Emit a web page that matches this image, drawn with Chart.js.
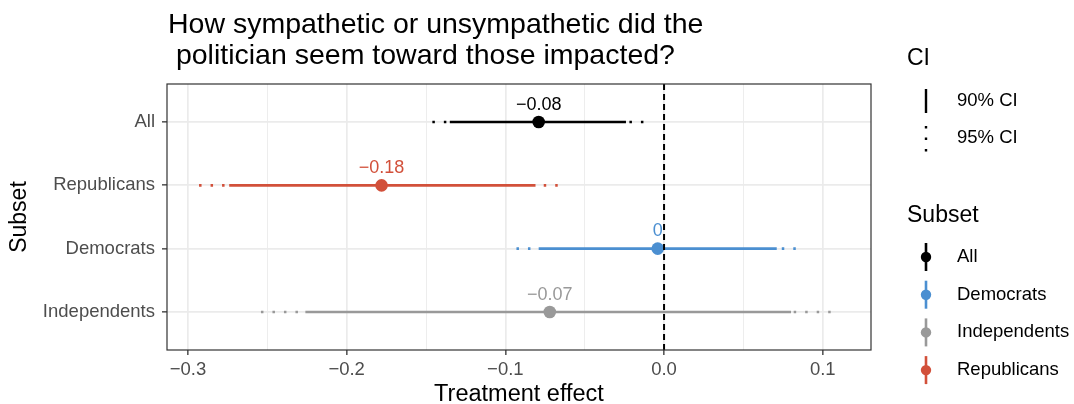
<!DOCTYPE html>
<html>
<head>
<meta charset="utf-8">
<script src="https://cdn.jsdelivr.net/npm/chart.js@4"></script>
<style>
  html, body { margin: 0; padding: 0; background: #ffffff; }
  canvas { display: block; }
</style>
</head>
<body>
<canvas id="chart" width="1074" height="404"></canvas>
<script>
// Subsets, top row first
const subsets = ['All', 'Republicans', 'Democrats', 'Independents'];
const subsetColors = ['#000000', '#d2503a', '#4b8fd1', '#999999'];
// Point estimates and confidence bounds
const estimates = [-0.079, -0.178, -0.004, -0.072];
const lower90 = [-0.135, -0.274, -0.079, -0.226];
const upper90 = [-0.024, -0.081, 0.071, 0.080];
const lower95 = [-0.146, -0.293, -0.093, -0.254];
const upper95 = [-0.013, -0.067, 0.083, 0.105];
// Axis ticks
const xMajorTicks = [-0.3, -0.2, -0.1, 0.0, 0.1];
const xMinorTicks = [-0.25, -0.15, -0.05, 0.05];
const xRange = [-0.3132, 0.1304];
// Legend order
const legendOrder = ['All', 'Democrats', 'Independents', 'Republicans'];
const ciLegend = ['90% CI', '95% CI'];

const FONT = '"Liberation Sans", Arial, Helvetica, sans-serif';
const MINUS = '\u2212';
const fmtNum = (v, d) => {
  const s = Number(v.toFixed(d)).toString();
  return s.replace('-', MINUS);
};
const fmtTick = v => (Math.abs(v) < 1e-9 ? '0.0' : v.toFixed(1).replace('-', MINUS));
const isMajor = v => xMajorTicks.some(t => Math.abs(t - v) < 1e-9);
const rowOf = i => subsets.length - i;

const DOTS = [2.5, 9];

const datasets = [];
subsets.forEach((name, i) => {
  const y = rowOf(i);
  // 95% interval: dotted tails outside the 90% interval, each dotted from its outer end
  datasets.push({
    label: name + ' 95 low',
    data: [{ x: lower95[i], y }, { x: lower90[i], y }],
    showLine: true, borderColor: subsetColors[i], borderWidth: 2.6,
    borderDash: DOTS, pointRadius: 0, order: 3
  });
  datasets.push({
    label: name + ' 95 high',
    data: [{ x: upper95[i], y }, { x: upper90[i], y }],
    showLine: true, borderColor: subsetColors[i], borderWidth: 2.6,
    borderDash: DOTS, pointRadius: 0, order: 3
  });
  datasets.push({
    label: name + ' 90',
    data: [{ x: lower90[i], y }, { x: upper90[i], y }],
    showLine: true, borderColor: subsetColors[i], borderWidth: 2.7,
    pointRadius: 0, order: 2
  });
  datasets.push({
    label: name,
    data: [{ x: estimates[i], y }],
    showLine: false, backgroundColor: subsetColors[i], borderWidth: 0,
    pointRadius: 6.3, pointHoverRadius: 6.3, order: 1
  });
});
// reference line at zero
datasets.push({
  label: 'zero',
  data: [{ x: 0, y: 0.4 }, { x: 0, y: 4.6 }],
  showLine: true, borderColor: '#000000', borderWidth: 2,
  borderDash: [6, 4], pointRadius: 0, order: 0
});

const annotate = {
  id: 'annotate',
  afterDatasetsDraw(chart) {
    const { ctx, scales: { x, y } } = chart;
    ctx.save();
    ctx.font = '18px ' + FONT;
    ctx.textAlign = 'center';
    ctx.textBaseline = 'alphabetic';
    subsets.forEach((name, i) => {
      ctx.fillStyle = subsetColors[i];
      ctx.fillText(fmtNum(estimates[i], 2),
        x.getPixelForValue(estimates[i]),
        y.getPixelForValue(rowOf(i)) - 12.5);
    });
    ctx.restore();
  },
  afterDraw(chart) {
    const { ctx, chartArea: a } = chart;
    ctx.save();
    // panel border
    ctx.strokeStyle = '#333333';
    ctx.lineWidth = 1.2;
    ctx.strokeRect(a.left, a.top, a.right - a.left, a.bottom - a.top);

    // title
    ctx.fillStyle = '#000000';
    ctx.textAlign = 'left';
    ctx.textBaseline = 'alphabetic';
    ctx.font = '28.5px ' + FONT;
    ctx.fillText('How sympathetic or unsympathetic did the', 168, 33);
    ctx.fillText(' politician seem toward those impacted?', 168, 64);

    // CI legend
    const keyX = 926, textX = 957;
    ctx.textBaseline = 'middle';
    ctx.font = '23px ' + FONT;
    ctx.fillText('CI', 907, 59);
    ctx.font = '18.5px ' + FONT;
    ctx.strokeStyle = '#000000';
    ctx.lineWidth = 2.4;
    ctx.beginPath(); ctx.moveTo(keyX, 89); ctx.lineTo(keyX, 113); ctx.stroke();
    ctx.fillText(ciLegend[0], textX, 101);
    ctx.setLineDash(DOTS);
    ctx.beginPath(); ctx.moveTo(keyX, 126); ctx.lineTo(keyX, 152); ctx.stroke();
    ctx.setLineDash([]);
    ctx.fillText(ciLegend[1], textX, 138);

    // Subset legend
    ctx.font = '23px ' + FONT;
    ctx.fillText('Subset', 907, 216);
    ctx.font = '18.5px ' + FONT;
    legendOrder.forEach((name, k) => {
      const cy = 257 + k * 37.7;
      const col = subsetColors[subsets.indexOf(name)];
      ctx.strokeStyle = col;
      ctx.fillStyle = col;
      ctx.lineWidth = 2.6;
      ctx.beginPath(); ctx.moveTo(keyX, cy - 14); ctx.lineTo(keyX, cy + 14); ctx.stroke();
      ctx.beginPath(); ctx.arc(keyX, cy, 5.2, 0, Math.PI * 2); ctx.fill();
      ctx.fillStyle = '#000000';
      ctx.fillText(name, textX, cy);
    });
    ctx.restore();
  }
};

new Chart(document.getElementById('chart'), {
  type: 'scatter',
  data: { datasets },
  options: {
    responsive: false,
    animation: false,
    devicePixelRatio: 1,
    layout: { padding: { top: 84, right: 203, left: 0, bottom: 0 } },
    plugins: { legend: { display: false }, tooltip: { enabled: false } },
    events: [],
    scales: {
      x: {
        type: 'linear', min: xRange[0], max: xRange[1],
        afterBuildTicks: s => {
          s.ticks = [...xMajorTicks, ...xMinorTicks].sort((a, b) => a - b).map(v => ({ value: v }));
        },
        afterFit: s => { s.height = 54; },
        border: { display: false },
        grid: {
          color: '#ebebeb',
          lineWidth: c => (isMajor(c.tick.value) ? 1.7 : 0.9),
          tickColor: c => (isMajor(c.tick.value) ? '#333333' : 'rgba(0,0,0,0)'),
          tickWidth: 1.3,
          tickLength: 5
        },
        ticks: {
          autoSkip: false, maxRotation: 0,
          callback: v => (isMajor(v) ? fmtTick(v) : ''),
          font: { family: FONT, size: 18.5, lineHeight: 1.0 }, color: '#4d4d4d', padding: 6
        },
        title: {
          display: true, text: 'Treatment effect',
          font: { family: FONT, size: 23.5, lineHeight: 0.8 }, color: '#000000', padding: { top: 0, bottom: 0 }
        }
      },
      y: {
        type: 'linear', min: 0.4, max: 4.6,
        afterBuildTicks: s => {
          s.ticks = subsets.map((n, i) => ({ value: rowOf(i) }));
        },
        afterFit: s => { s.width = 167; },
        border: { display: false },
        grid: {
          color: '#ebebeb', lineWidth: 1.7,
          tickColor: '#333333', tickWidth: 1.3, tickLength: 5
        },
        ticks: {
          autoSkip: false,
          callback: v => subsets[subsets.length - Math.round(v)],
          font: { family: FONT, size: 18.5 }, color: '#4d4d4d', padding: 7
        },
        title: {
          display: true, text: 'Subset',
          font: { family: FONT, size: 23 }, color: '#000000', padding: { top: 6, bottom: 0 }
        }
      }
    }
  },
  plugins: [annotate]
});
</script>
</body>
</html>
